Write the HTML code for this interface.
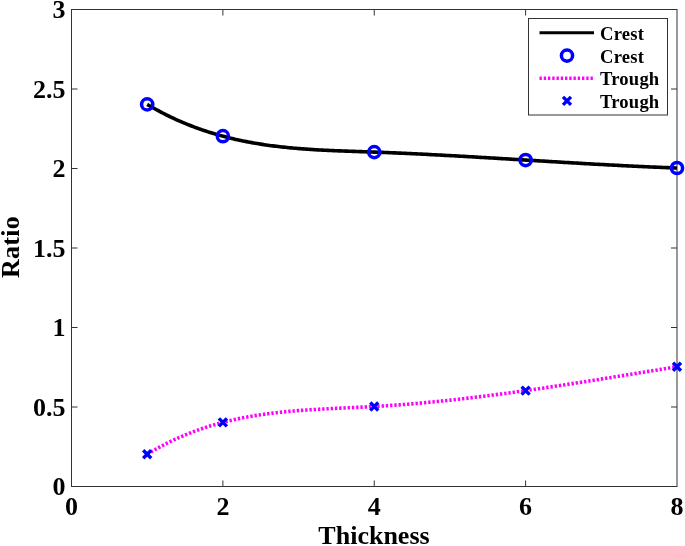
<!DOCTYPE html>
<html><head><meta charset="utf-8"><style>
html,body{margin:0;padding:0;background:#fff;width:685px;height:546px;overflow:hidden}
svg{display:block;will-change:transform}
text{font-family:"Liberation Serif",serif;font-weight:bold;fill:#000}
</style></head><body>
<svg width="685" height="546" viewBox="0 0 685 546">
<rect width="685" height="546" fill="#fff"/>
<rect x="71.5" y="9.5" width="605.5" height="477.0" fill="none" stroke="#333" stroke-width="1.0"/>
<path d="M222.88,486.5V480.5M222.88,9.5V15.5M374.25,486.5V480.5M374.25,9.5V15.5M525.62,486.5V480.5M525.62,9.5V15.5M71.5,407.00H77.5M677.0,407.00H671.0M71.5,327.50H77.5M677.0,327.50H671.0M71.5,248.00H77.5M677.0,248.00H671.0M71.5,168.50H77.5M677.0,168.50H671.0M71.5,89.00H77.5M677.0,89.00H671.0" fill="none" stroke="#333" stroke-width="1.0"/>
<path d="M147.19,104.40 L148.96,105.45 L150.73,106.48 L152.50,107.49 L154.28,108.49 L156.05,109.47 L157.82,110.44 L159.59,111.39 L161.36,112.33 L163.14,113.25 L164.91,114.15 L166.68,115.04 L168.45,115.92 L170.22,116.78 L171.99,117.62 L173.77,118.45 L175.54,119.27 L177.31,120.07 L179.08,120.86 L180.85,121.63 L182.63,122.39 L184.40,123.14 L186.17,123.87 L187.94,124.59 L189.71,125.29 L191.49,125.98 L193.26,126.66 L195.03,127.33 L196.80,127.98 L198.57,128.62 L200.35,129.25 L202.12,129.87 L203.89,130.47 L205.66,131.06 L207.43,131.64 L209.21,132.21 L210.98,132.76 L212.75,133.31 L214.52,133.84 L216.29,134.36 L218.07,134.87 L219.84,135.37 L221.61,135.86 L223.38,136.34 L225.15,136.80 L226.93,137.26 L228.70,137.70 L230.47,138.14 L232.24,138.57 L234.01,138.98 L235.78,139.39 L237.56,139.78 L239.33,140.17 L241.10,140.55 L242.87,140.92 L244.64,141.27 L246.42,141.62 L248.19,141.97 L249.96,142.30 L251.73,142.62 L253.50,142.94 L255.28,143.24 L257.05,143.54 L258.82,143.83 L260.59,144.12 L262.36,144.39 L264.14,144.66 L265.91,144.92 L267.68,145.17 L269.45,145.42 L271.22,145.66 L273.00,145.89 L274.77,146.11 L276.54,146.33 L278.31,146.54 L280.08,146.75 L281.86,146.95 L283.63,147.14 L285.40,147.33 L287.17,147.51 L288.94,147.68 L290.72,147.85 L292.49,148.02 L294.26,148.18 L296.03,148.33 L297.80,148.48 L299.58,148.63 L301.35,148.76 L303.12,148.90 L304.89,149.03 L306.66,149.16 L308.43,149.28 L310.21,149.40 L311.98,149.51 L313.75,149.62 L315.52,149.73 L317.29,149.83 L319.07,149.93 L320.84,150.02 L322.61,150.12 L324.38,150.21 L326.15,150.30 L327.93,150.38 L329.70,150.46 L331.47,150.54 L333.24,150.62 L335.01,150.70 L336.79,150.77 L338.56,150.84 L340.33,150.91 L342.10,150.98 L343.87,151.05 L345.65,151.11 L347.42,151.17 L349.19,151.24 L350.96,151.30 L352.73,151.36 L354.51,151.42 L356.28,151.48 L358.05,151.54 L359.82,151.60 L361.59,151.66 L363.37,151.72 L365.14,151.78 L366.91,151.84 L368.68,151.90 L370.45,151.97 L372.22,152.03 L374.00,152.09 L375.77,152.15 L377.54,152.22 L379.31,152.29 L381.08,152.35 L382.86,152.42 L384.63,152.49 L386.40,152.56 L388.17,152.63 L389.94,152.70 L391.72,152.78 L393.49,152.85 L395.26,152.92 L397.03,153.00 L398.80,153.08 L400.58,153.15 L402.35,153.23 L404.12,153.31 L405.89,153.39 L407.66,153.47 L409.44,153.55 L411.21,153.63 L412.98,153.72 L414.75,153.80 L416.52,153.89 L418.30,153.97 L420.07,154.06 L421.84,154.14 L423.61,154.23 L425.38,154.32 L427.16,154.41 L428.93,154.50 L430.70,154.59 L432.47,154.68 L434.24,154.77 L436.02,154.86 L437.79,154.95 L439.56,155.05 L441.33,155.14 L443.10,155.24 L444.87,155.33 L446.65,155.43 L448.42,155.52 L450.19,155.62 L451.96,155.72 L453.73,155.81 L455.51,155.91 L457.28,156.01 L459.05,156.11 L460.82,156.21 L462.59,156.31 L464.37,156.41 L466.14,156.51 L467.91,156.61 L469.68,156.71 L471.45,156.81 L473.23,156.92 L475.00,157.02 L476.77,157.12 L478.54,157.22 L480.31,157.33 L482.09,157.43 L483.86,157.54 L485.63,157.64 L487.40,157.75 L489.17,157.85 L490.95,157.96 L492.72,158.06 L494.49,158.17 L496.26,158.27 L498.03,158.38 L499.81,158.49 L501.58,158.59 L503.35,158.70 L505.12,158.81 L506.89,158.91 L508.66,159.02 L510.44,159.13 L512.21,159.24 L513.98,159.34 L515.75,159.45 L517.52,159.56 L519.30,159.67 L521.07,159.77 L522.84,159.88 L524.61,159.99 L526.38,160.10 L528.16,160.20 L529.93,160.31 L531.70,160.42 L533.47,160.53 L535.24,160.63 L537.02,160.74 L538.79,160.85 L540.56,160.96 L542.33,161.06 L544.10,161.17 L545.88,161.28 L547.65,161.39 L549.42,161.49 L551.19,161.60 L552.96,161.71 L554.74,161.81 L556.51,161.92 L558.28,162.02 L560.05,162.13 L561.82,162.23 L563.60,162.34 L565.37,162.44 L567.14,162.55 L568.91,162.65 L570.68,162.76 L572.46,162.86 L574.23,162.96 L576.00,163.07 L577.77,163.17 L579.54,163.27 L581.31,163.37 L583.09,163.48 L584.86,163.58 L586.63,163.68 L588.40,163.78 L590.17,163.88 L591.95,163.98 L593.72,164.08 L595.49,164.18 L597.26,164.27 L599.03,164.37 L600.81,164.47 L602.58,164.56 L604.35,164.66 L606.12,164.76 L607.89,164.85 L609.67,164.95 L611.44,165.04 L613.21,165.13 L614.98,165.23 L616.75,165.32 L618.53,165.41 L620.30,165.50 L622.07,165.59 L623.84,165.68 L625.61,165.77 L627.39,165.86 L629.16,165.94 L630.93,166.03 L632.70,166.12 L634.47,166.20 L636.25,166.29 L638.02,166.37 L639.79,166.45 L641.56,166.54 L643.33,166.62 L645.10,166.70 L646.88,166.78 L648.65,166.86 L650.42,166.94 L652.19,167.01 L653.96,167.09 L655.74,167.17 L657.51,167.24 L659.28,167.31 L661.05,167.39 L662.82,167.46 L664.60,167.53 L666.37,167.60 L668.14,167.67 L669.91,167.74 L671.68,167.80 L673.46,167.87 L675.23,167.94 L677.00,168.00" fill="none" stroke="#000" stroke-width="3.6" stroke-linejoin="round"/>
<path d="M147.19,454.20 L148.96,453.13 L150.73,452.09 L152.50,451.06 L154.28,450.04 L156.05,449.05 L157.82,448.07 L159.59,447.11 L161.36,446.16 L163.14,445.23 L164.91,444.32 L166.68,443.42 L168.45,442.54 L170.22,441.67 L171.99,440.82 L173.77,439.99 L175.54,439.17 L177.31,438.37 L179.08,437.58 L180.85,436.80 L182.63,436.05 L184.40,435.30 L186.17,434.57 L187.94,433.85 L189.71,433.15 L191.49,432.46 L193.26,431.79 L195.03,431.13 L196.80,430.48 L198.57,429.85 L200.35,429.22 L202.12,428.62 L203.89,428.02 L205.66,427.44 L207.43,426.87 L209.21,426.31 L210.98,425.76 L212.75,425.23 L214.52,424.71 L216.29,424.20 L218.07,423.70 L219.84,423.21 L221.61,422.73 L223.38,422.27 L225.15,421.81 L226.93,421.37 L228.70,420.94 L230.47,420.51 L232.24,420.10 L234.01,419.70 L235.78,419.31 L237.56,418.93 L239.33,418.55 L241.10,418.19 L242.87,417.84 L244.64,417.49 L246.42,417.16 L248.19,416.83 L249.96,416.51 L251.73,416.20 L253.50,415.90 L255.28,415.61 L257.05,415.32 L258.82,415.05 L260.59,414.78 L262.36,414.51 L264.14,414.26 L265.91,414.01 L267.68,413.77 L269.45,413.54 L271.22,413.32 L273.00,413.10 L274.77,412.88 L276.54,412.68 L278.31,412.48 L280.08,412.28 L281.86,412.09 L283.63,411.91 L285.40,411.74 L287.17,411.56 L288.94,411.40 L290.72,411.24 L292.49,411.08 L294.26,410.93 L296.03,410.78 L297.80,410.64 L299.58,410.50 L301.35,410.37 L303.12,410.24 L304.89,410.11 L306.66,409.99 L308.43,409.87 L310.21,409.75 L311.98,409.64 L313.75,409.53 L315.52,409.43 L317.29,409.32 L319.07,409.22 L320.84,409.12 L322.61,409.03 L324.38,408.93 L326.15,408.84 L327.93,408.75 L329.70,408.66 L331.47,408.57 L333.24,408.49 L335.01,408.40 L336.79,408.32 L338.56,408.24 L340.33,408.15 L342.10,408.07 L343.87,407.99 L345.65,407.91 L347.42,407.83 L349.19,407.75 L350.96,407.67 L352.73,407.58 L354.51,407.50 L356.28,407.42 L358.05,407.33 L359.82,407.25 L361.59,407.16 L363.37,407.08 L365.14,406.99 L366.91,406.90 L368.68,406.80 L370.45,406.71 L372.22,406.61 L374.00,406.51 L375.77,406.41 L377.54,406.31 L379.31,406.20 L381.08,406.09 L382.86,405.98 L384.63,405.87 L386.40,405.75 L388.17,405.64 L389.94,405.52 L391.72,405.39 L393.49,405.27 L395.26,405.14 L397.03,405.01 L398.80,404.88 L400.58,404.74 L402.35,404.61 L404.12,404.47 L405.89,404.33 L407.66,404.19 L409.44,404.04 L411.21,403.89 L412.98,403.74 L414.75,403.59 L416.52,403.44 L418.30,403.28 L420.07,403.13 L421.84,402.97 L423.61,402.80 L425.38,402.64 L427.16,402.47 L428.93,402.31 L430.70,402.14 L432.47,401.97 L434.24,401.79 L436.02,401.62 L437.79,401.44 L439.56,401.26 L441.33,401.08 L443.10,400.89 L444.87,400.71 L446.65,400.52 L448.42,400.33 L450.19,400.14 L451.96,399.95 L453.73,399.76 L455.51,399.56 L457.28,399.36 L459.05,399.17 L460.82,398.97 L462.59,398.76 L464.37,398.56 L466.14,398.35 L467.91,398.15 L469.68,397.94 L471.45,397.73 L473.23,397.51 L475.00,397.30 L476.77,397.08 L478.54,396.87 L480.31,396.65 L482.09,396.43 L483.86,396.21 L485.63,395.99 L487.40,395.76 L489.17,395.54 L490.95,395.31 L492.72,395.08 L494.49,394.85 L496.26,394.62 L498.03,394.39 L499.81,394.15 L501.58,393.92 L503.35,393.68 L505.12,393.44 L506.89,393.20 L508.66,392.96 L510.44,392.72 L512.21,392.48 L513.98,392.23 L515.75,391.99 L517.52,391.74 L519.30,391.49 L521.07,391.24 L522.84,391.00 L524.61,390.74 L526.38,390.49 L528.16,390.24 L529.93,389.98 L531.70,389.73 L533.47,389.47 L535.24,389.22 L537.02,388.96 L538.79,388.70 L540.56,388.44 L542.33,388.18 L544.10,387.91 L545.88,387.65 L547.65,387.39 L549.42,387.12 L551.19,386.86 L552.96,386.59 L554.74,386.32 L556.51,386.05 L558.28,385.78 L560.05,385.51 L561.82,385.24 L563.60,384.97 L565.37,384.70 L567.14,384.43 L568.91,384.15 L570.68,383.88 L572.46,383.60 L574.23,383.33 L576.00,383.05 L577.77,382.77 L579.54,382.50 L581.31,382.22 L583.09,381.94 L584.86,381.66 L586.63,381.38 L588.40,381.10 L590.17,380.82 L591.95,380.54 L593.72,380.25 L595.49,379.97 L597.26,379.69 L599.03,379.41 L600.81,379.12 L602.58,378.84 L604.35,378.55 L606.12,378.27 L607.89,377.98 L609.67,377.70 L611.44,377.41 L613.21,377.13 L614.98,376.84 L616.75,376.55 L618.53,376.27 L620.30,375.98 L622.07,375.69 L623.84,375.40 L625.61,375.11 L627.39,374.83 L629.16,374.54 L630.93,374.25 L632.70,373.96 L634.47,373.67 L636.25,373.38 L638.02,373.09 L639.79,372.81 L641.56,372.52 L643.33,372.23 L645.10,371.94 L646.88,371.65 L648.65,371.36 L650.42,371.07 L652.19,370.78 L653.96,370.49 L655.74,370.20 L657.51,369.92 L659.28,369.63 L661.05,369.34 L662.82,369.05 L664.60,368.76 L666.37,368.47 L668.14,368.19 L669.91,367.90 L671.68,367.61 L673.46,367.32 L675.23,367.04 L677.00,366.75" fill="none" stroke="#f0f" stroke-width="3.6" stroke-dasharray="2.35 1.9"/>
<circle cx="147.19" cy="104.40" r="5.6" fill="none" stroke="#00f" stroke-width="3.5"/>
<circle cx="222.88" cy="136.20" r="5.6" fill="none" stroke="#00f" stroke-width="3.5"/>
<circle cx="374.25" cy="152.10" r="5.6" fill="none" stroke="#00f" stroke-width="3.5"/>
<circle cx="525.62" cy="160.05" r="5.6" fill="none" stroke="#00f" stroke-width="3.5"/>
<circle cx="677.00" cy="168.00" r="5.6" fill="none" stroke="#00f" stroke-width="3.5"/>
<path d="M143.19,450.20L151.19,458.20M143.19,458.20L151.19,450.20" stroke="#00f" stroke-width="3.4"/>
<path d="M218.88,418.40L226.88,426.40M218.88,426.40L226.88,418.40" stroke="#00f" stroke-width="3.4"/>
<path d="M370.25,402.50L378.25,410.50M370.25,410.50L378.25,402.50" stroke="#00f" stroke-width="3.4"/>
<path d="M521.62,386.60L529.62,394.60M521.62,394.60L529.62,386.60" stroke="#00f" stroke-width="3.4"/>
<path d="M673.00,362.75L681.00,370.75M673.00,370.75L681.00,362.75" stroke="#00f" stroke-width="3.4"/>
<text x="65.5" y="486.50" text-anchor="end" dominant-baseline="central" font-size="26">0</text>
<text x="65.5" y="407.00" text-anchor="end" dominant-baseline="central" font-size="26">0.5</text>
<text x="65.5" y="327.50" text-anchor="end" dominant-baseline="central" font-size="26">1</text>
<text x="65.5" y="248.00" text-anchor="end" dominant-baseline="central" font-size="26">1.5</text>
<text x="65.5" y="168.50" text-anchor="end" dominant-baseline="central" font-size="26">2</text>
<text x="65.5" y="89.00" text-anchor="end" dominant-baseline="central" font-size="26">2.5</text>
<text x="65.5" y="9.50" text-anchor="end" dominant-baseline="central" font-size="26">3</text>
<text x="71.50" y="514.8" text-anchor="middle" font-size="26">0</text>
<text x="222.88" y="514.8" text-anchor="middle" font-size="26">2</text>
<text x="374.25" y="514.8" text-anchor="middle" font-size="26">4</text>
<text x="525.62" y="514.8" text-anchor="middle" font-size="26">6</text>
<text x="677.00" y="514.8" text-anchor="middle" font-size="26">8</text>
<text x="374.0" y="544.0" text-anchor="middle" font-size="26">Thickness</text>
<text transform="translate(19.0,247.0) rotate(-90)" x="0" y="0" text-anchor="middle" font-size="26" letter-spacing="0.3">Ratio</text>
<rect x="528.5" y="18.5" width="139.0" height="96.5" fill="#fff" stroke="#333" stroke-width="1.0"/>
<path d="M539.5,32.7H594.0" stroke="#000" stroke-width="3.0"/>
<circle cx="567.0" cy="55.6" r="5.6" fill="none" stroke="#00f" stroke-width="3.5"/>
<path d="M539.5,78.2H594.0" stroke="#f0f" stroke-width="3.6" stroke-dasharray="2.35 1.9"/>
<path d="M563.00,96.90L571.00,104.90M563.00,104.90L571.00,96.90" stroke="#00f" stroke-width="3.4"/>
<text x="600.0" y="39.90" font-size="18.6" letter-spacing="0.2">Crest</text>
<text x="600.0" y="62.80" font-size="18.6" letter-spacing="0.2">Crest</text>
<text x="600.0" y="85.40" font-size="18.6" letter-spacing="0.2">Trough</text>
<text x="600.0" y="108.10" font-size="18.6" letter-spacing="0.2">Trough</text>
</svg>
</body></html>
